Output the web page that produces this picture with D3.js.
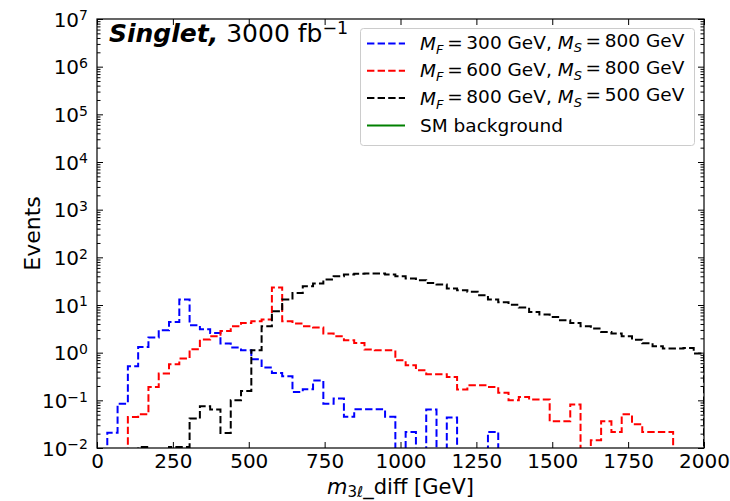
<!DOCTYPE html>
<html><head><meta charset="utf-8">
<script src="https://cdn.jsdelivr.net/npm/d3@7/dist/d3.min.js"></script>
<style>
body{margin:0;background:#fff}
svg text{font-family:"DejaVu Sans",sans-serif;fill:#000}
</style>
</head><body>
<svg id="chart" width="730" height="501"></svg>
<script>
// ---------------- DATA ----------------
const xDomain = [0, 2000];
const nBins = 59;                       // bin edges = linspace(0, 2000, 60)
const xTickValues = [0, 250, 500, 750, 1000, 1250, 1500, 1750, 2000];
const yTickExponents = [-2, -1, 0, 1, 2, 3, 4, 5, 6, 7];

const seriesNames = ["mf300_ms800", "mf600_ms800", "mf800_ms500", "sm_background"];
const seriesColors = ["#0000ff", "#ff0000", "#000000", "#008000"];

const mf300ms800 = [
  0, 0.021, 0.085, 0.52, 1.32, 2.08, 2.96, 4.42, 13.1, 3.77,
  3.1, 2.6, 1.56, 1.28, 1.12, 0.73, 0.49, 0.376, 0.32, 0.15,
  0.17, 0.26, 0.085, 0.109, 0.045, 0.065, 0.065, 0.065, 0.045, 0,
  0.0217, 0, 0.064, 0, 0.0435, 0, 0, 0, 0.0217, 0,
  0, 0, 0, 0, 0, 0, 0, 0, 0, 0,
  0, 0, 0, 0, 0, 0, 0, 0, 0
];
const mf600ms800 = [
  0, 0, 0, 0.0448, 0.051, 0.191, 0.365, 0.571, 0.753, 1.18,
  1.89, 2.21, 2.86, 3.59, 4.21, 4.57, 4.96, 23.3, 4.57, 4.09,
  3.6, 3.37, 2.52, 2.21, 1.82, 1.60, 1.16, 1.12, 1.12, 0.69,
  0.545, 0.43, 0.352, 0.352, 0.31, 0.168, 0.207, 0.207, 0.191, 0.145,
  0.1, 0.118, 0.104, 0.104, 0.0363, 0.0363, 0.0815, 0, 0.0145, 0.0363,
  0.0217, 0.051, 0.0315, 0.0217, 0.0217, 0.0217, 0, 0, 0
];
const mf800ms500 = [
  0, 0, 0, 0, 0.0105, 0, 0, 0.0105, 0.0105, 0.0414,
  0.075, 0.064, 0.0207, 0.1, 0.157, 1.12, 3.59, 7.4, 13.1, 17.9,
  24.8, 28.3, 34.3, 40.3, 43.7, 45, 45.8, 45.8, 43.7, 40.3,
  36, 33.2, 29.1, 26.9, 22.2, 20.5, 18.9, 16.1, 13.1, 11.4,
  10.1, 8.87, 7.17, 6.31, 5.62, 4.8, 4.21, 3.59, 3.21, 2.72,
  2.52, 2.21, 1.87, 1.58, 1.36, 1.22, 1.22, 1.26, 0.96
];
const smBackground = [];   // lies below the plotted range; legend entry only

// ---------------- LAYOUT ----------------
const W = 730, H = 501;
const margin = {left: 97, top: 19, right: 26, bottom: 53};
const pw = W - margin.left - margin.right;   // 607
const ph = H - margin.top - margin.bottom;   // 429

const svg = d3.select("#chart");
const g = svg.append("g").attr("transform", `translate(${margin.left},${margin.top})`);

const x = d3.scaleLinear().domain(xDomain).range([0, pw]);
const y = d3.scaleLog().domain([Math.pow(10, yTickExponents[0]), Math.pow(10, yTickExponents[yTickExponents.length-1])]).range([ph, 0]);

const edges = d3.range(nBins + 1).map(i => xDomain[0] + i * (xDomain[1] - xDomain[0]) / nBins);

svg.append("defs").append("clipPath").attr("id", "clip")
  .append("rect").attr("x", 0).attr("y", 0).attr("width", pw).attr("height", ph);

function yv(v) { return v > 0 ? y(v) : ph + 40; }

function stepPath(vals) {
  const p = d3.path();
  p.moveTo(x(edges[0]), ph + 40);
  vals.forEach((v, i) => {
    p.lineTo(x(edges[i]), yv(v));
    p.lineTo(x(edges[i + 1]), yv(v));
  });
  p.lineTo(x(edges[vals.length]), ph + 40);
  return p.toString();
}

const allSeries = [mf300ms800, mf600ms800, mf800ms500, smBackground];
const dashes = ["7.4,3.2", "7.4,3.2", "7.4,3.2", null];

const plotG = g.append("g").attr("clip-path", "url(#clip)");
allSeries.forEach((vals, k) => {
  if (!vals.length) return;
  plotG.append("path")
    .attr("d", stepPath(vals))
    .attr("fill", "none")
    .attr("stroke", seriesColors[k])
    .attr("stroke-width", 2)
    .attr("stroke-dasharray", dashes[k])
    .attr("stroke-linejoin", "miter");
});

// ---------------- AXES ----------------
const majorY = yTickExponents.map(e => Math.pow(10, e));
const minorY = [];
yTickExponents.slice(0, -1).forEach(e => { for (let m = 2; m <= 9; m++) minorY.push(m * Math.pow(10, e)); });

function styleAxis(sel) {
  sel.select(".domain").remove();
  sel.selectAll(".tick line").attr("stroke", "#000").attr("stroke-width", 1);
}

const axB = g.append("g").attr("transform", `translate(0,${ph})`)
  .call(d3.axisBottom(x).tickValues(xTickValues).tickSize(-6).tickPadding(6).tickFormat(d3.format("d")));
styleAxis(axB);
axB.selectAll(".tick text").attr("font-size", 20).attr("font-family", "DejaVu Sans");
const axT = g.append("g").call(d3.axisTop(x).tickValues(xTickValues).tickSize(-6).tickFormat(""));
styleAxis(axT);
const axL = g.append("g")
  .call(d3.axisLeft(y).tickValues(majorY).tickSize(-6).tickPadding(9).tickFormat(""));
styleAxis(axL);
axL.selectAll(".tick text").each(function(d) {
  const e = Math.round(Math.log10(d));
  const t = d3.select(this).attr("font-size", 20).attr("font-family", "DejaVu Sans").attr("dy", "0.36em");
  t.append("tspan").text("10");
  t.append("tspan").attr("dy", "-0.45em").attr("font-size", 14).text(e < 0 ? "\u2212" + (-e) : String(e));
});
const axLm = g.append("g").call(d3.axisLeft(y).tickValues(minorY).tickSize(-3.5).tickFormat(""));
styleAxis(axLm);
const axR = g.append("g").attr("transform", `translate(${pw},0)`)
  .call(d3.axisRight(y).tickValues(majorY).tickSize(-6).tickFormat(""));
styleAxis(axR);
const axRm = g.append("g").attr("transform", `translate(${pw},0)`)
  .call(d3.axisRight(y).tickValues(minorY).tickSize(-3.5).tickFormat(""));
styleAxis(axRm);

g.append("rect").attr("x", 0).attr("y", 0).attr("width", pw).attr("height", ph)
  .attr("fill", "none").attr("stroke", "#000").attr("stroke-width", 1.2);

// ---------------- LABELS ----------------
const xl = svg.append("text").attr("x", margin.left + pw / 2).attr("y", 494)
  .attr("text-anchor", "middle").attr("font-size", 21);
xl.append("tspan").attr("font-style", "italic").text("m");
xl.append("tspan").attr("dy", 3).attr("font-size", 15).text("3");
xl.append("tspan").attr("font-size", 15).attr("font-style", "italic").text("\u2113");
xl.append("tspan").attr("dy", -3).text("_diff [GeV]");

svg.append("text").attr("transform", `translate(40,${margin.top + ph / 2}) rotate(-90)`)
  .attr("text-anchor", "middle").attr("font-size", 22).text("Events");

const tt = svg.append("text").attr("x", 109).attr("y", 42).attr("font-size", 25);
tt.append("tspan").attr("font-weight", "bold").attr("font-style", "italic").text("Singlet,");
tt.append("tspan").text(" 3000 fb");
tt.append("tspan").attr("dy", "-0.45em").attr("font-size", 17.5).text("\u22121");

// ---------------- LEGEND ----------------
const legendLabels = [
  [["M", "i"], ["F", "is"], [" = 300 GeV, ", ""], ["M", "i"], ["S", "is"], [" = 800 GeV", ""]],
  [["M", "i"], ["F", "is"], [" = 600 GeV, ", ""], ["M", "i"], ["S", "is"], [" = 800 GeV", ""]],
  [["M", "i"], ["F", "is"], [" = 800 GeV, ", ""], ["M", "i"], ["S", "is"], [" = 500 GeV", ""]],
  [["SM background", ""]]
];
const lg = svg.append("g");
lg.append("rect").attr("x", 360.5).attr("y", 28.5).attr("width", 334).attr("height", 117)
  .attr("rx", 3).attr("fill", "#fff").attr("fill-opacity", 0.8).attr("stroke", "#cccccc").attr("stroke-width", 1);
legendLabels.forEach((segs, k) => {
  const cy = 43.5 + k * 27.3;
  lg.append("line").attr("x1", 367).attr("x2", 405).attr("y1", cy).attr("y2", cy)
    .attr("stroke", seriesColors[k]).attr("stroke-width", 2)
    .attr("stroke-dasharray", dashes[k]);
  const t = lg.append("text").attr("x", 420).attr("y", cy).attr("dy", "0.36em").attr("font-size", 18.5);
  let sub = false;
  segs.forEach(([s, f]) => {
    const txt = s.replace(/ = /g, "\u2009=\u2009");
    const ts = t.append("tspan").text(txt);
    if (f.includes("i")) ts.attr("font-style", "italic");
    if (f.includes("s")) { ts.attr("font-size", 13).attr("dy", "0.3em"); sub = true; }
    else if (sub) { ts.attr("dy", "-0.3em"); sub = false; }
  });
});
</script>
</body></html>
